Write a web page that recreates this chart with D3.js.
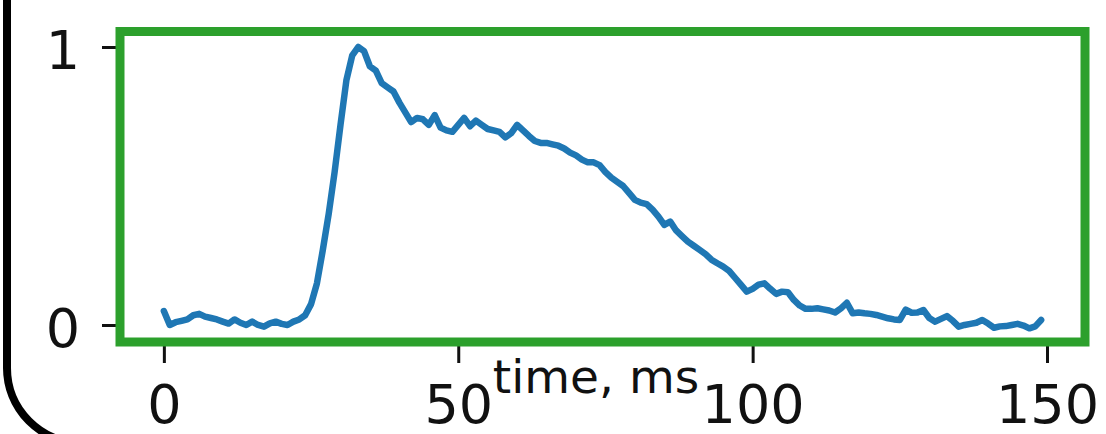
<!DOCTYPE html>
<html>
<head>
<meta charset="utf-8">
<script src="https://cdn.jsdelivr.net/npm/d3@7"></script>
<style>
  html, body { margin: 0; padding: 0; background: #ffffff; }
  svg { display: block; }
  text { font-family: "DejaVu Sans", sans-serif; fill: #111; }
</style>
</head>
<body>
<script>
// Normalised signal trace, one sample per millisecond
const timeMs = d3.range(0, 150);
const signal = [
  0.05, 0.00, 0.01, 0.015, 0.02, 0.035, 0.04, 0.03, 0.025, 0.02,
  0.012, 0.005, 0.02, 0.008, 0.0, 0.012, 0.0, -0.006, 0.006, 0.012,
  0.004, 0.0, 0.012, 0.02, 0.035, 0.075, 0.15, 0.27, 0.40, 0.55,
  0.72, 0.88, 0.97, 1.0, 0.985, 0.93, 0.915, 0.87, 0.855, 0.84,
  0.80, 0.765, 0.73, 0.745, 0.74, 0.72, 0.755, 0.71, 0.70, 0.695,
  0.72, 0.745, 0.715, 0.735, 0.72, 0.705, 0.70, 0.695, 0.675, 0.69,
  0.72, 0.70, 0.68, 0.662, 0.655, 0.655, 0.65, 0.645, 0.635, 0.62,
  0.61, 0.595, 0.585, 0.585, 0.575, 0.55, 0.53, 0.515, 0.50, 0.475,
  0.45, 0.44, 0.435, 0.415, 0.39, 0.36, 0.372, 0.34, 0.32, 0.30,
  0.285, 0.27, 0.255, 0.235, 0.222, 0.21, 0.195, 0.17, 0.145, 0.12,
  0.13, 0.145, 0.15, 0.13, 0.112, 0.12, 0.118, 0.09, 0.07, 0.058,
  0.058, 0.06, 0.056, 0.052, 0.045, 0.06, 0.08, 0.042, 0.045, 0.042,
  0.04, 0.036, 0.03, 0.024, 0.02, 0.018, 0.055, 0.044, 0.045, 0.054,
  0.025, 0.012, 0.022, 0.032, 0.015, -0.006, 0.0, 0.004, 0.008, 0.018,
  0.005, -0.01, -0.005, -0.004, 0.0, 0.004, -0.002, -0.012, -0.005, 0.018
];
const xTicks = [0, 50, 100, 150];
const yTicks = [0, 1];
const xLabel = "time, ms";

const W = 1106, H = 434;
const svg = d3.select("body").append("svg")
  .attr("width", W).attr("height", H);

svg.append("rect").attr("width", W).attr("height", H).attr("fill", "#ffffff");

// Rounded outer panel border (left side and bottom-left corner)
svg.append("path")
  .attr("d", "M7,-10 V368 A75,75 0 0 0 82,443 H1200")
  .attr("fill", "none")
  .attr("stroke", "#000")
  .attr("stroke-width", 8);

const plotLeft = 120, plotRight = 1085, plotTop = 31.5, plotBottom = 342;
const x = d3.scaleLinear().domain([-7.45, 156.45]).range([plotLeft, plotRight]);
const y = d3.scaleLinear().domain([-0.0612, 1.0558]).range([plotBottom, plotTop]);

// Axes
const xAxis = svg.append("g")
  .attr("transform", `translate(0,${plotBottom})`)
  .call(d3.axisBottom(x).tickValues(xTicks).tickFormat(d3.format("d"))
    .tickSizeInner(21).tickSizeOuter(0).tickPadding(22));
xAxis.select(".domain").remove();
xAxis.selectAll(".tick line").attr("stroke", "#111").attr("stroke-width", 3);
xAxis.selectAll(".tick text")
  .attr("font-size", 54).attr("fill", "#111")
  .style("font-family", "'DejaVu Sans', sans-serif");

const yAxis = svg.append("g")
  .attr("transform", `translate(${plotLeft},0)`)
  .call(d3.axisLeft(y).tickValues(yTicks).tickFormat(d3.format("d"))
    .tickSizeInner(18).tickSizeOuter(0).tickPadding(22));
yAxis.select(".domain").remove();
yAxis.selectAll(".tick line").attr("stroke", "#111").attr("stroke-width", 3);
yAxis.selectAll(".tick text")
  .attr("font-size", 54).attr("fill", "#111").attr("dy", "0.39em")
  .style("font-family", "'DejaVu Sans', sans-serif");

// Axis title
svg.append("text")
  .attr("x", 596).attr("y", 393)
  .attr("text-anchor", "middle")
  .attr("font-size", 47)
  .text(xLabel);

// Trace
const line = d3.line()
  .x((d, i) => x(timeMs[i]))
  .y(d => y(d));
svg.append("path")
  .datum(signal)
  .attr("d", line)
  .attr("fill", "none")
  .attr("stroke", "#1f77b4")
  .attr("stroke-width", 6.5)
  .attr("stroke-linejoin", "round")
  .attr("stroke-linecap", "round");

// Green frame around the plotting area
svg.append("rect")
  .attr("x", plotLeft).attr("y", plotTop)
  .attr("width", plotRight - plotLeft).attr("height", plotBottom - plotTop)
  .attr("fill", "none")
  .attr("stroke", "#2ca02c")
  .attr("stroke-width", 9);
</script>
</body>
</html>
